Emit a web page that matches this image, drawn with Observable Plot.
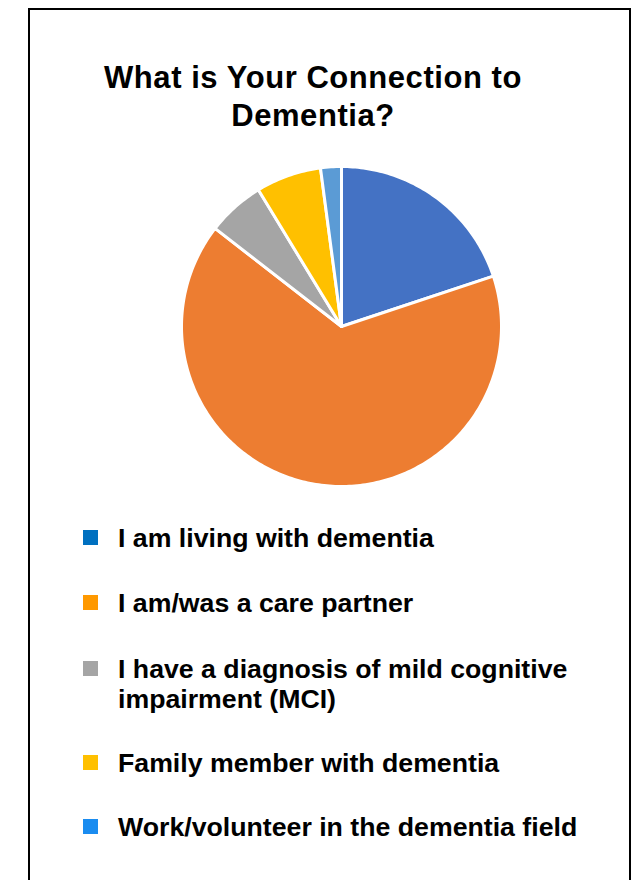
<!DOCTYPE html>
<html>
<head>
<meta charset="utf-8">
<script src="https://cdn.jsdelivr.net/npm/d3@7"></script>
<script src="https://cdn.jsdelivr.net/npm/@observablehq/plot@0.6"></script>
<style>
  html, body { margin: 0; padding: 0; background: #fff; }
  body { width: 634px; height: 880px; position: relative; overflow: hidden;
         font-family: "Liberation Sans", Arial, Helvetica, sans-serif; }
  #frame { position: absolute; left: 28px; top: 8px; width: 603px; height: 900px;
           border: 2px solid #000; box-sizing: border-box; }
  #title { position: absolute; left: 13px; width: 600px; top: 59px; text-align: center;
           font-weight: bold; font-size: 31px; line-height: 38px; letter-spacing: 0.55px; color: #000; }
  #chart { position: absolute; left: 171px; top: 156px; }
  .item { position: absolute; left: 83px; display: flex; align-items: flex-start; }
  .sw { width: 15px; height: 15px; margin-top: 7px; flex: none; }
  .lab { margin-left: 20px; font-weight: bold; font-size: 26.7px; line-height: 30px; color: #000; width: 520px; white-space: nowrap; }
</style>
</head>
<body>
<div id="frame"></div>
<div id="title">What is Your Connection to<br>Dementia?</div>
<div id="chart"></div>
<div id="legend"></div>
<script>
const categories = [
  "I am living with dementia",
  "I am/was a care partner",
  "I have a diagnosis of mild cognitive impairment (MCI)",
  "Family member with dementia",
  "Work/volunteer in the dementia field"
];
const values = [19.9, 65.6, 5.8, 6.6, 2.1];
const pieColors = ["#4472C4", "#ED7D31", "#A5A5A5", "#FFC000", "#5B9BD5"];
const legendColors = ["#0070C0", "#FF9900", "#A5A5A5", "#FFC000", "#1A8CF0"];
const legendLines = [
  ["I am living with dementia"],
  ["I am/was a care partner"],
  ["I have a diagnosis of mild cognitive", "impairment (MCI)"],
  ["Family member with dementia"],
  ["Work/volunteer in the dementia field"]
];
const legendTops = [523, 588, 654, 748, 812];

// build slice polygons from the values (clockwise from 12 o'clock)
const total = d3.sum(values);
const pts = [];
let acc = 0;
values.forEach((v, i) => {
  const a0 = acc / total * 2 * Math.PI;
  acc += v;
  const a1 = acc / total * 2 * Math.PI;
  const n = Math.max(2, Math.ceil((a1 - a0) / (Math.PI / 180)));
  pts.push({cat: categories[i], x: 0, y: 0});
  for (let k = 0; k <= n; k++) {
    const a = a0 + (a1 - a0) * k / n;
    pts.push({cat: categories[i], x: Math.sin(a), y: Math.cos(a)});
  }
});

const chart = Plot.plot({
  width: 340, height: 340,
  margin: 10,
  x: {domain: [-1, 1], axis: null},
  y: {domain: [-1, 1], axis: null},
  color: {domain: categories, range: pieColors},
  marks: [
    Plot.line(pts, {x: "x", y: "y", z: "cat", fill: "cat", stroke: "white",
      strokeWidth: 3, strokeLinejoin: "round", curve: "linear-closed"})
  ]
});
document.getElementById("chart").append(chart);

const leg = document.getElementById("legend");
categories.forEach((c, i) => {
  const it = document.createElement("div");
  it.className = "item";
  it.style.top = legendTops[i] + "px";
  const sw = document.createElement("div");
  sw.className = "sw";
  sw.style.background = legendColors[i];
  const lab = document.createElement("div");
  lab.className = "lab";
  lab.innerHTML = legendLines[i].join("<br>");
  it.append(sw, lab);
  leg.append(it);
});
</script>
</body>
</html>
